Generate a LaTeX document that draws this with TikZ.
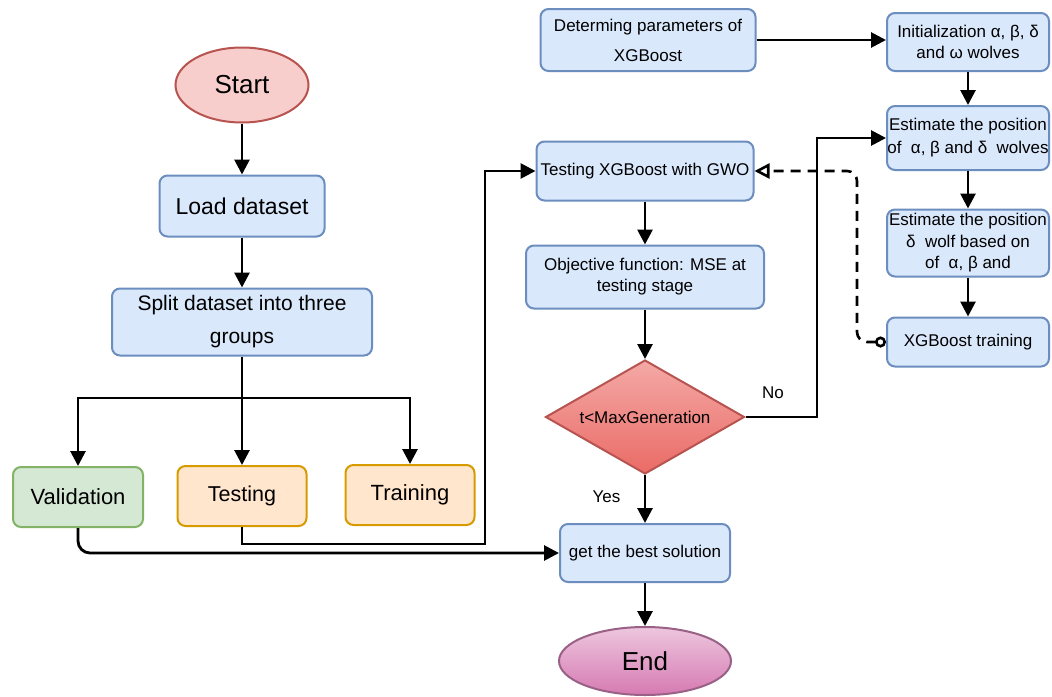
\documentclass[tikz,border=0pt]{standalone}
\usepackage{fontspec}
\setmainfont{Liberation Sans}
\usetikzlibrary{arrows.meta,shapes.geometric}
\definecolor{bfill}{HTML}{DAE8FC}
\definecolor{bdraw}{HTML}{6C8EBF}
\definecolor{rfill}{HTML}{F8CECC}
\definecolor{rdraw}{HTML}{B85450}
\definecolor{gfill}{HTML}{D5E8D4}
\definecolor{gdraw}{HTML}{82B366}
\definecolor{ofill}{HTML}{FFE6CC}
\definecolor{odraw}{HTML}{D79B00}
\definecolor{ptop}{HTML}{EDC6DE}
\definecolor{pbot}{HTML}{D67AB2}
\definecolor{pdraw}{HTML}{996185}
\definecolor{dtop}{HTML}{F4A9A6}
\definecolor{dbot}{HTML}{EA6B66}
\tikzset{
  box/.style={rectangle, rounded corners=8pt, line width=2pt, inner sep=0pt, align=center},
  bluebox/.style={box, fill=bfill, draw=bdraw},
  greenbox/.style={box, fill=gfill, draw=gdraw},
  orangebox/.style={box, fill=ofill, draw=odraw},
  small/.style={font=\fontsize{17}{21}\selectfont},
  arr/.style={line width=2.8pt, -{Triangle[length=15pt,width=15pt]}},
  lbl/.style={font=\fontsize{17}{21}\selectfont}
}
\begin{document}
\begin{tikzpicture}[x=1pt,y=-1pt]
\path[use as bounding box, fill=white] (0,0) rectangle (1052,696);

% left column
\node[ellipse, fill=rfill, draw=rdraw, line width=2pt, minimum width=133pt, minimum height=75pt, inner sep=0pt, font=\fontsize{26}{30}\selectfont] (start) at (242,85) {Start};
\node[bluebox, minimum width=165pt, minimum height=61pt, font=\fontsize{23}{28}\selectfont] (load) at (242,206) {Load dataset};
\node[bluebox, minimum width=260pt, minimum height=67pt, font=\fontsize{21}{33}\selectfont] (split) at (242,322) {Split dataset into three\\groups};
\node[greenbox, minimum width=130pt, minimum height=60pt, font=\fontsize{22}{26}\selectfont] (valid) at (78,497) {Validation};
\node[orangebox, minimum width=129pt, minimum height=60pt, font=\fontsize{21.5}{26}\selectfont] (testing) at (242,496) {Testing};
\node[orangebox, minimum width=129pt, minimum height=60pt, font=\fontsize{22}{26}\selectfont] (train) at (410,495) {Training};

% middle column
\node[bluebox, minimum width=215pt, minimum height=62pt, font=\fontsize{17}{30}\selectfont] (det) at (648,40) {Determing parameters of\\XGBoost};
\node[bluebox, small, minimum width=217pt, minimum height=59pt] (testx) at (645,171) {Testing XGBoost with GWO};
\node[bluebox, small, minimum width=238pt, minimum height=63pt] (obj) at (645,277) {Objective function: MSE at\\testing stage};
\node[diamond, aspect=1.75, shading=axis, top color=dtop, bottom color=dbot, draw=rdraw, line width=2pt, minimum width=199pt, minimum height=114pt, inner sep=0pt, small] (dia) at (645,417) {t<MaxGeneration};
\node[bluebox, small, minimum width=170pt, minimum height=58pt] (best) at (645,553) {get the best solution};
\node[ellipse, shading=axis, top color=ptop, bottom color=pbot, draw=pdraw, line width=2pt, minimum width=172pt, minimum height=68pt, inner sep=0pt, font=\fontsize{26}{30}\selectfont] (end) at (645,661) {End};

% right column
\node[bluebox, small, minimum width=162pt, minimum height=58pt] (init) at (968,42) {Initialization α, β, δ\\and ω wolves};
\node[bluebox, minimum width=162pt, minimum height=64pt, font=\fontsize{17}{23}\selectfont] (est1) at (968,138) {Estimate the position\\of~ α, β and δ~ wolves};
\node[bluebox, minimum width=162pt, minimum height=67pt, font=\fontsize{17}{21.5}\selectfont] (est2) at (968,243) {Estimate the position\\δ~ wolf based on\\of~ α, β and};
\node[bluebox, small, minimum width=162pt, minimum height=49pt] (xtrain) at (968,342) {XGBoost training};

% coordinates
\coordinate (br) at (242,398);
\coordinate (c1) at (485,544);
\coordinate (c2) at (817,417);
\coordinate (c3) at (857,342);

% connectors
\draw[arr] (start) -- (load);
\draw[arr] (load) -- (split);
\draw[arr] (split.south) -- (testing.north);
\draw[arr] (br) -| (valid.north);
\draw[arr] (br) -| (train.north);
\draw[arr] (testing.south) |- (c1) |- (testx.west);
\draw[arr, rounded corners=12pt] (valid.south) |- (best.west);
\draw[arr] (det.east) -- (det.east -| init.west);
\draw[arr] (init) -- (est1);
\draw[arr] (est1) -- (est2);
\draw[arr] (est2) -- (xtrain);
\draw[arr] (testx) -- (obj);
\draw[arr] (obj) -- (dia);
\draw[arr] (dia) -- (best) node[lbl, pos=0.45, left=20pt] {Yes};
\draw[arr] (best) -- (end);
\draw[arr] (dia.east) -- (c2) |- (est1.west);
\node[lbl] (no) at (773,393) {No};
\draw[line width=2.6pt, dash pattern=on 10pt off 7pt, rounded corners=10pt, {Circle[open,length=11pt,width=11pt]}-{Triangle[open,length=15pt,width=15pt]}] (xtrain.west) -- (c3) |- (testx.east);
\end{tikzpicture}
\end{document}
